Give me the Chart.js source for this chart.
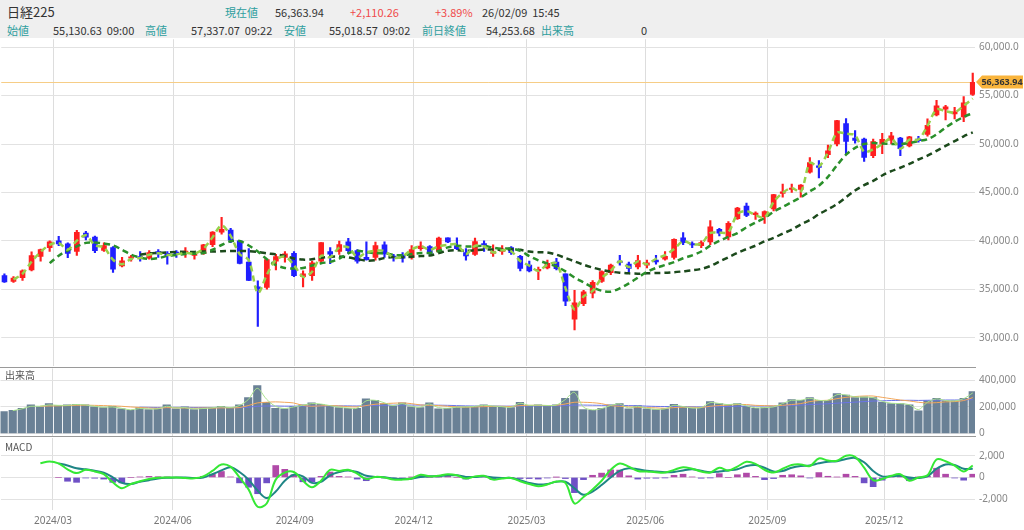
<!DOCTYPE html>
<html>
<head>
<meta charset="utf-8">
<script src="https://cdn.jsdelivr.net/npm/chart.js@4.4.1/dist/chart.umd.min.js"></script>
<style>
  body { margin: 0; width: 1024px; height: 530px; overflow: hidden; background: #fff; position: relative;
         font-family: "Noto Sans CJK JP", "Noto Sans", sans-serif; }
  #head { position: absolute; left: 0; top: 0; width: 1024px; height: 38px; background: #efefef; }
  .t { position: absolute; white-space: nowrap; font-size: 11px; line-height: 14px; color: #333; }
  .r1 { top: 5px; }
  .r2 { top: 23px; }
  .lb { color: #2e9e9e; }
  .up { color: #f04a4a; }
  canvas { position: absolute; left: 0; }
  .sep { position: absolute; left: 0; width: 976px; height: 1px; background: #9a9a9a; }
  .pl { position: absolute; left: 5px; font-size: 10px; line-height: 12px; color: #555; }
</style>
</head>
<body>
<div id="head">
  <span class="t r1" style="left:7px;top:4px;font-size:13px;line-height:16px">日経225</span>
  <span class="t r1 lb" style="left:225px">現在値</span>
  <span class="t r1" style="left:275px">56,363.94</span>
  <span class="t r1 up" style="left:350px">+2,110.26</span>
  <span class="t r1 up" style="left:435px">+3.89%</span>
  <span class="t r1" style="left:482px">26/02/09&nbsp;&nbsp;15:45</span>

  <span class="t r2 lb" style="left:7px">始値</span>
  <span class="t r2" style="left:53px">55,130.63&nbsp;&nbsp;09:00</span>
  <span class="t r2 lb" style="left:145px">高値</span>
  <span class="t r2" style="left:191px">57,337.07&nbsp;&nbsp;09:22</span>
  <span class="t r2 lb" style="left:284px">安値</span>
  <span class="t r2" style="left:329px">55,018.57&nbsp;&nbsp;09:02</span>
  <span class="t r2 lb" style="left:422px">前日終値</span>
  <span class="t r2" style="left:486px">54,253.68</span>
  <span class="t r2 lb" style="left:541px">出来高</span>
  <span class="t r2" style="left:641px">0</span>
</div>

<canvas id="main" width="1024" height="329" style="top:38px;width:1024px;height:329px"></canvas>
<div class="sep" style="top:367px"></div>
<canvas id="vol" width="1024" height="68" style="top:368px;width:1024px;height:68px"></canvas>
<div class="sep" style="top:436px"></div>
<canvas id="macd" width="1024" height="93" style="top:437px;width:1024px;height:93px"></canvas>
<div class="pl" style="top:369px">出来高</div>
<div class="pl" style="top:441px">MACD</div>

<script>
// 週足 (月曜日付)
const weeks = [
  '2024/01/22','2024/01/29','2024/02/05','2024/02/12','2024/02/19','2024/02/26','2024/03/04','2024/03/11','2024/03/18','2024/03/25',
  '2024/04/01','2024/04/08','2024/04/15','2024/04/22','2024/04/29','2024/05/06','2024/05/13','2024/05/20','2024/05/27','2024/06/03',
  '2024/06/10','2024/06/17','2024/06/24','2024/07/01','2024/07/08','2024/07/15','2024/07/22','2024/07/29','2024/08/05','2024/08/12',
  '2024/08/19','2024/08/26','2024/09/02','2024/09/09','2024/09/16','2024/09/23','2024/09/30','2024/10/07','2024/10/14','2024/10/21',
  '2024/10/28','2024/11/04','2024/11/11','2024/11/18','2024/11/25','2024/12/02','2024/12/09','2024/12/16','2024/12/23','2024/12/30',
  '2025/01/06','2025/01/13','2025/01/20','2025/01/27','2025/02/03','2025/02/10','2025/02/17','2025/02/24','2025/03/03','2025/03/10',
  '2025/03/17','2025/03/24','2025/03/31','2025/04/07','2025/04/14','2025/04/21','2025/04/28','2025/05/05','2025/05/12','2025/05/19',
  '2025/05/26','2025/06/02','2025/06/09','2025/06/16','2025/06/23','2025/06/30','2025/07/07','2025/07/14','2025/07/21','2025/07/28',
  '2025/08/04','2025/08/11','2025/08/18','2025/08/25','2025/09/01','2025/09/08','2025/09/15','2025/09/22','2025/09/29','2025/10/06',
  '2025/10/13','2025/10/20','2025/10/27','2025/11/03','2025/11/10','2025/11/17','2025/11/24','2025/12/01','2025/12/08','2025/12/15',
  '2025/12/22','2025/12/29','2026/01/05','2026/01/12','2026/01/19','2026/01/26','2026/02/02','2026/02/09'
];

const openP = [
  36400, 35800, 36200, 37000, 38400, 39300, 40000, 39700, 38900, 40800,
  40400, 39000, 39300, 37400, 38200, 38300, 38200, 38900, 38700, 38800,
  38800, 38500, 38700, 39600, 40900, 41100, 40000, 37800, 35250, 35200,
  37900, 38300, 38700, 36300, 36400, 37900, 38900, 38900, 39900, 39000,
  38300, 38300, 39600, 38400, 38500, 38300, 39200, 39400, 38900, 40300,
  39500, 38800, 38600, 39600, 38700, 38900, 39300, 38400, 37500, 36900,
  37200, 37800, 36600, 31900, 33500, 34600, 35800, 36700, 37800, 37600,
  37300, 37500, 38000, 38100, 38300, 40300, 39700, 39500, 39900, 41200,
  40400, 42300, 43600, 42700, 42500, 43300, 44900, 45300, 45300, 47100,
  47600, 48900, 50000, 52100, 50600, 50500, 48800, 50000, 50400, 50600,
  49800, 50500, 51000, 53000, 53600, 53100, 52800, 55130.63
];
const highP = [
  36600, 36300, 37000, 38865, 39156, 39990, 40472, 39800, 41087, 40980,
  40500, 39800, 39400, 38300, 38500, 38900, 39000, 39100, 38900, 39000,
  39300, 38800, 39650, 40960, 42426, 41300, 40000, 39188, 35880, 38100,
  38600, 38900, 38900, 36900, 37900, 39830, 39300, 39980, 40257, 39100,
  39900, 39880, 39900, 38600, 38800, 39500, 39900, 39500, 40400, 40300,
  40300, 39200, 40280, 40000, 39600, 39500, 39400, 38500, 37900, 37300,
  38000, 38200, 36600, 34900, 34900, 35900, 36900, 37600, 38500, 37800,
  38500, 38000, 38500, 38900, 40200, 40850, 39900, 40000, 42100, 41300,
  42000, 43450, 43900, 43000, 43100, 44800, 45850, 45850, 45800, 48600,
  48300, 49900, 52450, 52636, 51400, 50600, 50500, 51100, 51200, 50700,
  50800, 50800, 52600, 54500, 54000, 53800, 54900, 57337.07
];
const lowP = [
  35700, 35700, 35900, 36900, 37900, 38900, 39500, 38271, 38500, 40100,
  38774, 38900, 36733, 37300, 37900, 37900, 38100, 38300, 37600, 38300,
  38300, 38100, 38600, 39400, 40700, 39800, 37611, 35880, 31156, 35000,
  37000, 37800, 36300, 35250, 35900, 37700, 37651, 38600, 38700, 37700,
  38000, 38000, 38300, 37900, 37800, 38100, 39000, 38600, 38800, 39800,
  39100, 38000, 38500, 38900, 38400, 38600, 38600, 36900, 36800, 35987,
  37100, 37000, 33300, 30792, 33300, 34100, 35700, 36500, 37500, 36800,
  37100, 37200, 37600, 38000, 38100, 39600, 39300, 39300, 39600, 40500,
  40100, 42200, 42500, 42200, 41800, 43100, 44500, 45000, 44500, 47000,
  46500, 48600, 49800, 49000, 50100, 48200, 48600, 49000, 50000, 48800,
  49700, 50200, 50800, 52900, 52500, 52600, 52300, 55018.57
];
const closeP = [
  35751, 36158, 36897, 38487, 39098, 39910, 39688, 38707, 40888, 40369,
  38992, 39523, 37068, 37934, 38236, 38229, 38787, 38646, 38487, 38683,
  38814, 38596, 39583, 40912, 41190, 40063, 37667, 35909, 35025, 38062,
  38364, 38647, 36391, 36581, 37723, 39829, 38635, 39605, 38981, 37913,
  38053, 39500, 38642, 38283, 38208, 39091, 39470, 38701, 40281, 39894,
  39190, 38451, 39931, 39572, 38787, 39149, 38776, 37155, 36887, 37053,
  37677, 37120, 33780, 33585, 34730, 35705, 36831, 37503, 37753, 37160,
  37965, 37741, 37834, 38403, 40150, 39811, 39569, 39819, 41456, 40800,
  41820, 43378, 42633, 42718, 43018, 44768, 45045, 45355, 45769, 48088,
  47582, 49299, 52411, 50276, 50376, 48625, 50253, 50491, 50836, 49507,
  50750, 50339, 51940, 53936, 53846, 53322, 54253, 56363.94
];

// 移動平均 (5日 / 25日 / 75日)
const ma5 = [
  null, 36000, 36600, 37850, 38860, 39590, 39780, 39100, 40020, 40580,
  39540, 39310, 38050, 37590, 38120, 38230, 38570, 38710, 38550, 38610,
  38760, 38680, 39190, 40380, 41600, 40520, 38620, 38030, 34600, 36500,
  38030, 38360, 37500, 36280, 36810, 38460, 38310, 39310, 39320, 38310,
  38810, 38980, 38960, 38260, 38380, 39110, 39440, 39080, 39440, 39580,
  39630, 38630, 39490, 39420, 38800, 39030, 38920, 37910, 37430, 36900,
  37540, 37670, 35100, 32900, 34260, 34820, 36170, 36900, 37890, 37290,
  37880, 37590, 38150, 38530, 39160, 39970, 39660, 39700, 40810, 40840,
  40900, 42770, 43080, 42650, 42410, 44020, 44960, 45460, 45050, 48060,
  47690, 49150, 51160, 51060, 50900, 49200, 49450, 50000, 50570, 49510,
  50460, 50470, 51870, 53580, 53380, 53260, 53950, 54690
];
const ma25 = [
  null, null, null, null, null, 37700, 38470, 39000, 39420, 39790,
  39820, 39720, 39540, 39080, 38570, 38280, 38130, 38210, 38430, 38530,
  38630, 38670, 38740, 39080, 39570, 39950, 39980, 39520, 38900, 38100,
  37500, 37200, 37150, 37200, 37450, 37690, 37830, 38160, 38720, 38980,
  38820, 38730, 38720, 38550, 38510, 38640, 38740, 38750, 38950, 39320,
  39500, 39410, 39430, 39480, 39300, 39190, 39210, 38970, 38420, 37980,
  37660, 37350, 36840, 36200, 35700, 35200, 34850, 34750, 35100, 35600,
  36200, 36800, 37200, 37500, 37800, 38200, 38500, 38900, 39500, 40000,
  40400, 40800, 41400, 41900, 42370, 43000, 43500, 44000, 44500, 45100,
  45700, 46600, 47800, 48900, 49600, 50000, 50100, 50050, 50000, 50000,
  50100, 50300, 50500, 51000, 51700, 52300, 52800, 53200
];
const ma75 = [
  null, null, null, null, null, null, null, null, null, null,
  null, null, null, null, null, 38560, 38710, 38760, 38800, 38860,
  38860, 38860, 38900, 38890, 38920, 38960, 38950, 38930, 38850, 38710,
  38590, 38430, 38180, 38060, 38110, 38250, 38360, 38380, 38290, 38110,
  37950, 38000, 38230, 38330, 38300, 38350, 38430, 38490, 38730, 38980,
  39020, 38960, 39030, 39110, 39100, 39080, 39130, 39070, 38890, 38830,
  38790, 38570, 38230, 37880, 37530, 37240, 37000, 36820, 36710, 36640,
  36610, 36640, 36680, 36700, 36760, 36850, 36950, 37100, 37400, 37850,
  38300, 38750, 39150, 39500, 39950, 40300, 40750, 41150, 41700, 42150,
  42750, 43250, 43800, 44500, 45200, 45750, 46200, 46750, 47200, 47550,
  47950, 48400, 48800, 49300, 49800, 50300, 50800, 51200
];

// 出来高
const volume = [
  165000, 175000, 190000, 215000, 200000, 225000, 210000, 215000, 220000, 215000,
  200000, 195000, 205000, 185000, 175000, 195000, 180000, 185000, 215000, 185000,
  200000, 180000, 190000, 195000, 205000, 190000, 215000, 270000, 360000, 235000,
  190000, 185000, 205000, 215000, 230000, 220000, 205000, 195000, 190000, 190000,
  260000, 250000, 225000, 205000, 230000, 200000, 195000, 230000, 185000, 190000,
  200000, 200000, 205000, 215000, 205000, 200000, 195000, 235000, 210000, 215000,
  210000, 215000, 265000, 320000, 180000, 175000, 190000, 215000, 225000, 185000,
  210000, 185000, 180000, 185000, 220000, 200000, 190000, 195000, 240000, 225000,
  215000, 225000, 205000, 190000, 195000, 200000, 230000, 255000, 250000, 270000,
  245000, 250000, 300000, 290000, 270000, 275000, 270000, 235000, 225000, 225000,
  215000, 170000, 245000, 265000, 245000, 245000, 265000, 315000
];
const volMa5 = [
  null, 172000, 185000, 205000, 205000, 215000, 212000, 212000, 218000, 215000,
  205000, 198000, 200000, 190000, 178000, 188000, 185000, 185000, 205000, 192000,
  195000, 185000, 188000, 193000, 202000, 195000, 210000, 255000, 340000, 260000,
  205000, 188000, 200000, 212000, 225000, 222000, 210000, 198000, 192000, 190000,
  245000, 250000, 232000, 210000, 225000, 205000, 198000, 222000, 195000, 190000,
  198000, 200000, 204000, 212000, 207000, 202000, 197000, 228000, 212000, 214000,
  211000, 214000, 255000, 310000, 200000, 178000, 187000, 210000, 222000, 192000,
  205000, 190000, 182000, 185000, 212000, 203000, 192000, 195000, 232000, 226000,
  217000, 223000, 208000, 193000, 195000, 200000, 225000, 250000, 250000, 265000,
  250000, 250000, 292000, 290000, 275000, 274000, 270000, 242000, 228000, 225000,
  217000, 180000, 235000, 260000, 248000, 245000, 262000, 305000
];
const volMa25 = [
  null, null, null, null, 205000, 207000, 208000, 210000, 212000, 213000,
  212000, 210000, 208000, 205000, 200000, 196000, 192000, 190000, 195000, 193000,
  192000, 190000, 192000, 191000, 193000, 193000, 195000, 210000, 230000, 235000,
  238000, 235000, 230000, 212000, 205000, 208000, 210000, 208000, 202000, 200000,
  210000, 220000, 225000, 228000, 230000, 225000, 215000, 212000, 210000, 205000,
  200000, 198000, 200000, 202000, 204000, 205000, 203000, 210000, 212000, 212000,
  210000, 212000, 222000, 235000, 235000, 232000, 225000, 210000, 205000, 200000,
  198000, 195000, 193000, 190000, 195000, 198000, 198000, 196000, 205000, 210000,
  214000, 218000, 218000, 212000, 210000, 208000, 212000, 218000, 225000, 240000,
  248000, 250000, 262000, 272000, 278000, 282000, 282000, 272000, 262000, 252000,
  245000, 235000, 230000, 232000, 238000, 240000, 248000, 270000
];
const volMa75 = [
  null, null, null, null, null, null, null, null, null, null,
  null, null, null, null, null, 198000, 197000, 196000, 197000, 197000,
  197000, 196000, 196000, 196000, 196000, 195000, 195000, 198000, 205000, 207000,
  207000, 206000, 206000, 206000, 207000, 207000, 208000, 208000, 208000, 207000,
  209000, 211000, 212000, 213000, 214000, 214000, 214000, 214000, 213000, 212000,
  210000, 208000, 207000, 207000, 207000, 206000, 206000, 207000, 207000, 208000,
  208000, 208000, 210000, 214000, 214000, 213000, 212000, 212000, 211000, 210000,
  209000, 206000, 204000, 203000, 203000, 202000, 201000, 200000, 201000, 202000,
  203000, 205000, 206000, 207000, 207000, 207000, 209000, 211000, 214000, 218000,
  221000, 224000, 228000, 232000, 236000, 240000, 244000, 246000, 248000, 249000,
  250000, 249000, 250000, 251000, 252000, 252000, 253000, 255000
];

// MACD
const macdLine = [
  null, null, null, null, 1300, 1480, 1300, 750, 400, 700,
  550, 300, -450, -1000, -600, -350, -150, -30, 0, 0,
  -50, -80, 100, 600, 1200, 1000, 0, -1100, -2700, -2400,
  -200, 450, 500, -300, -900, -300, 700, 600, 700, 350,
  -150, 50, 0, -200, -200, -100, 250, 100, 150, 300,
  200, -100, 100, 150, -200, -100, -50, -350, -600, -800,
  -650, -380, -500, -2400, -1800, -1100, -300, 700, 1280, 1000,
  600, 550, 480, 450, 700, 950, 800, 550, 450, 900,
  650, 1000, 1450, 1250, 700, 450, 800, 1150, 1200, 1050,
  1750, 1560, 1540, 2000, 1900, 900, -250, -150, 150, 300,
  -300, 0, 200, 1650, 1500, 1100, 550, 1100
];
const signalLine = [
  null, null, null, null, null, null, 1300, 1100, 850, 750,
  620, 450, 0, -500, -600, -400, -250, -100, -30, 0,
  0, -50, 0, 300, 650, 950, 500, -200, -1200, -1900,
  -1300, -300, 250, 100, -500, -400, 200, 500, 650, 500,
  150, 50, 20, -100, -150, -120, 50, 100, 120, 200,
  200, 50, 50, 100, 0, -50, -50, -250, -500, -650,
  -600, -400, -400, -1000, -1600, -1300, -700, 0, 600, 850,
  750, 620, 550, 480, 500, 650, 750, 620, 480, 550,
  650, 750, 1050, 1150, 900, 550, 600, 900, 1050, 1100,
  1300, 1450, 1500, 1700, 1800, 1400, 600, 100, 100, 150,
  0, -50, 100, 800, 1200, 1150, 800, 800
];
const macdHist = [
  null, null, null, null, null, null, 0, -350, -450, -50,
  -70, -150, -450, -500, 0, 50, 100, 70, 30, 0,
  -50, -30, 100, 300, 550, 50, -500, -900, -1500, -500,
  1100, 750, 250, -400, -400, 100, 500, 100, 50, -150,
  -300, 0, -20, -100, -50, 20, 200, 0, 30, 100,
  0, -150, 50, 50, -200, -50, 0, -100, -100, -150,
  -50, 20, -100, -1400, -200, 200, 400, 700, 680, 150,
  -150, -70, -70, -30, 200, 300, 50, -70, -30, 350,
  0, 250, 400, 100, -200, -100, 200, 250, 150, -50,
  450, 110, 40, 300, 100, -500, -850, -250, 50, 150,
  -300, 50, 100, 850, 300, -50, -250, 300
];

// 目盛り
const quarterLabels = ['2024/03', '2024/06', '2024/09', '2024/12', '2025/03', '2025/06', '2025/09', '2025/12'];
const quarterPos = [5.39, 18.63, 32.09, 45.23, 57.70, 70.83, 84.30, 97.21];
const priceTicks = [30000, 35000, 40000, 45000, 50000, 55000, 60000];
const volTicks = [0, 200000, 400000];
const macdTicks = [-2000, 0, 2000];

Chart.defaults.font.family = "'Noto Sans', sans-serif";

const UP = '#ff1f1f';
const DOWN = '#1f1fff';
const candleColors = closeP.map((c, i) => c >= openP[i] ? UP : DOWN);
const pts = arr => arr.map((v, i) => ({ x: i, y: v }));

function noPad(s) {
  s.paddingTop = 0; s.paddingBottom = 0; s.paddingLeft = 0; s.paddingRight = 0;
}

function xAxis(showLabels) {
  return {
    type: 'linear', min: -0.35, max: 107.25, offset: false,
    afterBuildTicks: s => { s.ticks = quarterPos.map(v => ({ value: v })); },
    afterFit: s => { s.height = showLabels ? 20 : 0; noPad(s); },
    grid: { color: '#dddddd', drawTicks: false, offset: false },
    border: { display: false },
    ticks: {
      display: showLabels, autoSkip: false, maxRotation: 0, padding: 5,
      color: '#777', font: { size: 10 },
      callback: (v, i) => quarterLabels[i]
    }
  };
}

function yAxis(tickVals, fmt) {
  return {
    position: 'right',
    afterBuildTicks: s => { s.ticks = tickVals.map(v => ({ value: v })); },
    afterFit: s => { s.width = 49; noPad(s); },
    grid: { color: '#e2e2e2', drawTicks: false },
    border: { display: false },
    ticks: { padding: 4, color: '#888', font: { size: 10 }, callback: fmt }
  };
}

// 目盛り値が狙った画面位置に来るよう min/max を合わせる
function pinScale(chart, canvasTop, v1, y1, v2, y2) {
  const a = chart.chartArea;
  const k = (y2 - y1) / (v1 - v2);
  chart.options.scales.y.min = v2 - (canvasTop + a.bottom - y2) / k;
  chart.options.scales.y.max = v1 + (y1 - (canvasTop + a.top)) / k;
  chart.update();
}

const baseOpts = {
  responsive: false, animation: false, events: [],
  layout: { padding: 0 },
  plugins: { legend: { display: false }, tooltip: { enabled: false } }
};

function maLine(arr, color, width, dash) {
  return {
    type: 'line', data: pts(arr), borderColor: color, borderWidth: width,
    borderDash: dash || [], pointRadius: 0, tension: 0.3, order: 0
  };
}

// 現在値ライン + ラベル
const lastPrice = {
  id: 'lastPrice',
  beforeDatasetsDraw(chart) {
    const { ctx, chartArea, scales } = chart;
    const y = Math.round(scales.y.getPixelForValue(closeP[closeP.length - 1])) + 0.5;
    ctx.save();
    ctx.strokeStyle = '#f6cd86';
    ctx.lineWidth = 1;
    ctx.beginPath();
    ctx.moveTo(chartArea.left, y);
    ctx.lineTo(chartArea.right, y);
    ctx.stroke();
    ctx.restore();
  },
  afterDraw(chart) {
    const { ctx, chartArea, scales } = chart;
    const last = closeP[closeP.length - 1];
    const y = Math.round(scales.y.getPixelForValue(last));
    const x0 = chartArea.right + 1;
    const x1 = chart.width - 1;
    ctx.save();
    ctx.fillStyle = '#f9b43c';
    ctx.beginPath();
    ctx.moveTo(x0, y);
    ctx.lineTo(x0 + 6, y - 6.5);
    ctx.lineTo(x1, y - 6.5);
    ctx.lineTo(x1, y + 6.5);
    ctx.lineTo(x0 + 6, y + 6.5);
    ctx.closePath();
    ctx.fill();
    ctx.fillStyle = '#333';
    ctx.font = 'bold 9px "Noto Sans"';
    ctx.textAlign = 'center';
    ctx.textBaseline = 'middle';
    ctx.fillText(last.toLocaleString('en-US', { minimumFractionDigits: 2 }), (x0 + 5 + x1) / 2, y + 0.5);
    ctx.restore();
  }
};

// ローソク足
const mainChart = new Chart(document.getElementById('main'), {
  type: 'bar',
  data: {
    datasets: [
      maLine(ma5, '#97d14a', 2.5, [6, 4]),
      maLine(ma25, '#2a8f2a', 2.5, [6, 4]),
      maLine(ma75, '#1c4a1c', 2.5, [6, 4]),
      {
        data: lowP.map((l, i) => ({ x: i, y: [l, highP[i]] })),
        backgroundColor: candleColors, barThickness: 1.5, grouped: false, order: 2
      },
      {
        data: openP.map((o, i) => ({ x: i, y: [Math.min(o, closeP[i]), Math.max(o, closeP[i])] })),
        backgroundColor: candleColors, barThickness: 5, grouped: false, minBarLength: 1.5, order: 1
      }
    ]
  },
  options: Object.assign({}, baseOpts, {
    scales: {
      x: xAxis(false),
      y: Object.assign(yAxis(priceTicks, v => v.toLocaleString('en-US', { minimumFractionDigits: 1 })), { min: 27100, max: 60820 })
    }
  }),
  plugins: [lastPrice]
});
pinScale(mainChart, 38, 60000, 46, 30000, 338.7);

// 出来高
const volChart = new Chart(document.getElementById('vol'), {
  type: 'bar',
  data: {
    datasets: [
      maLine(volMa5, '#a8e28c', 1),
      maLine(volMa25, '#f2a65a', 1),
      maLine(volMa75, '#6b74e8', 1),
      { data: pts(volume), backgroundColor: '#6a8196', barThickness: 7.5, order: 1 }
    ]
  },
  options: Object.assign({}, baseOpts, {
    scales: {
      x: xAxis(false),
      y: Object.assign(yAxis(volTicks, v => v.toLocaleString('en-US')), { min: -14800, max: 488900 })
    }
  })
});
pinScale(volChart, 368, 400000, 380, 0, 434);

// MACD
const macdChart = new Chart(document.getElementById('macd'), {
  type: 'bar',
  data: {
    datasets: [
      { type: 'line', data: pts(macdLine), borderColor: '#35e835', borderWidth: 2, pointRadius: 0, tension: 0.35, order: 0 },
      { type: 'line', data: pts(signalLine), borderColor: '#1f8585', borderWidth: 2, pointRadius: 0, tension: 0.35, order: 1 },
      {
        data: pts(macdHist),
        backgroundColor: macdHist.map(v => v >= 0 ? '#b04aa8' : '#6f50c6'),
        barThickness: 6, order: 2
      }
    ]
  },
  options: Object.assign({}, baseOpts, {
    scales: {
      x: xAxis(true),
      y: Object.assign(yAxis(macdTicks, v => v.toLocaleString('en-US')), { min: -3000, max: 3636 })
    }
  })
});
pinScale(macdChart, 437, 2000, 455, -2000, 499);
</script>
</body>
</html>
